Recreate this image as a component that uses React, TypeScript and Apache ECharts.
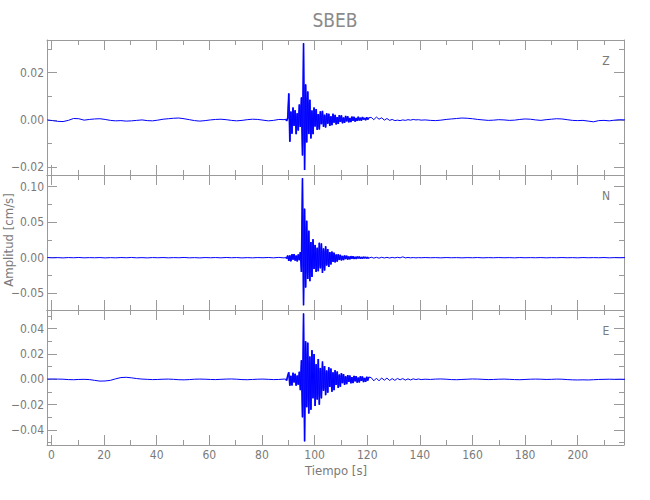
import React, { useEffect, useRef } from "react";
import * as echarts from "echarts";

// ---- data ----
const STATION = "SBEB";
const COMPONENTS = ["Z", "N", "E"];
const X_MIN = -1.7;
const X_MAX = 217.6;
const X_MAJOR = [0, 20, 40, 60, 80, 100, 120, 140, 160, 180, 200];
const X_MINOR = [10, 30, 50, 70, 90, 110, 130, 150, 170, 190, 210];

const Y_RANGES = [
  [-0.0233, 0.0338],
  [-0.0737, 0.1165],
  [-0.0519, 0.0548],
];
const Y_MAJOR = [
  [-0.02, 0, 0.02],
  [-0.05, 0, 0.05, 0.1],
  [-0.04, -0.02, 0, 0.02, 0.04],
];
const Y_MINOR = [
  [-0.01, 0.01, 0.03],
  [-0.025, 0.025, 0.075],
  [-0.05, -0.03, -0.01, 0.01, 0.03, 0.05],
];

// sampling of each trace segment (start time, step in s)
const PRE_T0 = -1.6, PRE_DT = 2;
const DENSE_T0 = 89.0, DENSE_DT = 0.4;
const TAIL_T0 = 121.5, TAIL_DT = 1;
const POST_T0 = 142, POST_DT = 2;

// Z component (cm/s)
const zPre = [
  0.0, -0.0003, -0.0006, -0.0007, -0.0002, 0.0006, 0.0005, -0.0001, 0.0002, 0.0004,
  0.0005, 0.0002, -0.0002, -0.0004, -0.0003, -0.0005, -0.0004, -0.0002, 0.0, -0.0003,
  -0.0004, -0.0001, 0.0003, 0.0005, 0.0007, 0.0008, 0.0005, 0.0001, -0.0003, -0.0005,
  -0.0003, 0.0, 0.0002, 0.0003, 0.0001, -0.0002, -0.0004, -0.0002, 0.0001, 0.0003,
  0.0002, -0.0001, -0.0004, -0.0002, 0.0002, 0.0001,
];
const zDense = [
  0.0003, -0.0004, 0.0008, 0.0112, -0.0092, 0.0035, -0.0058, 0.0052, -0.0025, 0.0041,
  -0.006, 0.0028, -0.0045, 0.0065, -0.003, 0.0095, -0.015, 0.0324, -0.0212, 0.015,
  -0.0095, 0.012, -0.006, 0.0085, -0.0078, 0.004, -0.006, 0.0052, -0.0028, 0.0046,
  -0.0042, 0.0025, -0.004, 0.0036, -0.0018, 0.0038, -0.003, 0.0022, -0.0032, 0.0028,
  -0.0016, 0.0026, -0.0025, 0.0015, -0.0022, 0.0026, -0.0012, 0.0021, -0.0019, 0.0012,
  -0.0017, 0.002, -0.0008, 0.0019, -0.0014, 0.001, -0.0012, 0.0017, -0.0006, 0.0015,
  -0.001, 0.0008, -0.0009, 0.0014, -0.0004, 0.0013, -0.0007, 0.0008, -0.0004, 0.0013,
  -0.0002, 0.0009, -0.0003, 0.0012, 0.0002, 0.0008, -0.0001, 0.0011, 0.0002, 0.0009,
];
const zTail = [
  0.0011, 0.0001, 0.0012, 0.0003, 0.0009, -0.0001, 0.0006, -0.0002, 0.0002, -0.0003,
  -0.0001, -0.0003, 0.0, -0.0002, 0.0001, -0.0001, 0.0002, 0.0, 0.0001, -0.0001,
];
const zPost = [
  0.0, -0.0002, -0.0003, -0.0001, 0.0002, 0.0004, 0.0006, 0.0008, 0.0007, 0.0005,
  0.0002, 0.0, -0.0002, -0.0001, 0.0001, 0.0, -0.0002, -0.0001, 0.0002, 0.0004,
  0.0003, 0.0, -0.0002, 0.0001, 0.0003, 0.0005, 0.0004, 0.0001, -0.0002, -0.0003,
  -0.0002, -0.0005, -0.0008, -0.0003, -0.0002, -0.0004, -0.0001, 0.0001, 0.0,
];

// N component (cm/s)
const nPre = [
  0.0002, -0.0002, 0.0001, -0.0003, 0.0002, -0.0001, 0.0003, -0.0002, 0.0001, -0.0001,
  0.0002, -0.0003, 0.0001, -0.0002, 0.0002, -0.0001, 0.0003, -0.0002, 0.0001, -0.0003,
  0.0002, -0.0001, 0.0002, -0.0002, 0.0001, -0.0001, 0.0003, -0.0002, 0.0001, -0.0003,
  0.0002, -0.0001, 0.0002, -0.0002, 0.0003, -0.0001, 0.0002, -0.0003, 0.0001, -0.0002,
  0.0002, -0.0001, 0.0003, -0.0002, 0.0004, -0.0003,
];
const nDense = [
  0.0005, -0.001, 0.003, -0.0045, 0.0032, -0.005, 0.0048, -0.0028, 0.005, -0.004,
  0.003, -0.0052, 0.0045, -0.0035, 0.008, -0.02, 0.112, -0.067, 0.069, -0.042,
  0.052, -0.03, 0.038, -0.033, 0.022, -0.027, 0.026, -0.016, 0.018, -0.02,
  0.014, -0.019, 0.021, -0.015, 0.02, -0.0215, 0.013, -0.018, 0.016, -0.011,
  0.012, -0.013, 0.008, -0.0095, 0.0085, -0.006, 0.007, -0.0065, 0.0045, -0.0055,
  0.0048, -0.0032, 0.004, -0.0038, 0.0025, -0.0034, 0.003, -0.002, 0.0027, -0.0025,
  0.0016, -0.0023, 0.0021, -0.0013, 0.0019, -0.0017, 0.0011, -0.0016, 0.0015, -0.0009,
  0.0014, -0.0013, 0.0008, -0.0012, 0.0011, -0.0007, 0.001, -0.0009, 0.0006, -0.0008,
];
const nTail = [
  0.0007, -0.0006, 0.0005, -0.0007, 0.0006, -0.0004, 0.0005, -0.0005, 0.0004, -0.0003,
  0.0005, -0.0002, 0.0012, -0.0003, 0.0003, -0.0002, 0.0002, -0.0002, 0.0001, -0.0001,
];
const nPost = [
  0.0002, -0.0001, 0.0001, -0.0002, 0.0002, -0.0001, 0.0001, -0.0002, 0.0001, -0.0001,
  0.0002, -0.0002, 0.0001, -0.0001, 0.0002, -0.0001, 0.0001, -0.0002, 0.0002, -0.0001,
  0.0001, -0.0001, 0.0002, -0.0002, 0.0001, -0.0001, 0.0002, -0.0001, 0.0001, -0.0002,
  0.0002, -0.0001, 0.0001, -0.0001, 0.0002, -0.0002, 0.0001, -0.0001, 0.0001,
];

// E component (cm/s)
const ePre = [
  0.0002, 0.0003, 0.0002, 0.0001, -0.0002, -0.0003, -0.0001, 0.0, -0.0002, -0.0008,
  -0.0014, -0.0013, -0.0008, 0.0004, 0.0014, 0.0016, 0.0012, 0.0006, 0.0002, 0.0,
  -0.0002, -0.0001, 0.0001, 0.0002, 0.0, -0.0003, -0.0004, -0.0002, 0.0001, 0.0002,
  0.0001, -0.0001, -0.0002, 0.0, 0.0002, 0.0003, 0.0001, -0.0002, -0.0003, -0.0001,
  0.0001, 0.0002, 0.0, -0.0002, -0.0001, 0.0002,
];
const eDense = [
  0.0002, -0.0008, 0.003, 0.0055, -0.005, 0.0028, -0.0048, 0.0052, -0.0025, 0.0044,
  -0.005, 0.003, -0.0042, 0.006, -0.0085, 0.015, -0.03, 0.052, -0.049, 0.03,
  -0.022, 0.029, -0.027, 0.018, -0.024, 0.023, -0.015, 0.02, -0.021, 0.012,
  -0.016, 0.016, -0.02, 0.009, -0.015, 0.014, -0.009, 0.0105, -0.0125, 0.007,
  -0.0105, 0.0095, -0.006, 0.0085, -0.0098, 0.0055, -0.0085, 0.0072, -0.0045, 0.0062,
  -0.0068, 0.0038, -0.0058, 0.005, -0.003, 0.0042, -0.0044, 0.0024, -0.0038, 0.0034,
  -0.002, 0.003, -0.0031, 0.0018, -0.0029, 0.0027, -0.0015, 0.0026, -0.0026, 0.0014,
  -0.0024, 0.0024, -0.0012, 0.0022, -0.0022, 0.0011, -0.002, 0.002, -0.001, 0.0018,
];
const eTail = [
  0.0014, -0.0012, 0.0009, -0.0012, 0.0011, -0.0007, 0.001, -0.0009, 0.0006, -0.0008,
  0.0007, -0.0004, 0.0006, -0.0006, 0.0004, -0.0005, 0.0004, -0.0002, 0.0003, -0.0002,
];
const ePost = [
  0.0001, -0.0001, 0.0002, 0.0003, 0.0001, -0.0002, -0.0003, -0.0001, 0.0001, 0.0003,
  0.0002, 0.0, -0.0002, -0.0001, 0.0001, 0.0002, 0.0, -0.0002, -0.0003, -0.0001,
  0.0001, 0.0002, 0.0001, -0.0001, 0.0, 0.0002, 0.0001, -0.0002, -0.0004, -0.0005,
  -0.0004, -0.0005, -0.0003, -0.0001, 0.0, 0.0001, 0.0, 0.0001, 0.0,
];

const TRACES = [
  [zPre, zDense, zTail, zPost],
  [nPre, nDense, nTail, nPost],
  [ePre, eDense, eTail, ePost],
];

// ---- layout / style ----
const GRID_LEFT = 47;
const GRID_RIGHT = 26;
const GRID_TOPS = [40, 175, 310];
const GRID_H = 135;
const AXIS_COLOR = "#9a9a9a";
const TEXT_COLOR = "#7a7a7a";
const FONT = '"DejaVu Sans Condensed", sans-serif';
const TRACE_COLOR = "#0000ff";

function segment(t0: number, dt: number, vals: number[]) {
  return vals.map((v, i) => [t0 + i * dt, v]);
}

function traceData(parts: number[][]) {
  return [
    ...segment(PRE_T0, PRE_DT, parts[0]),
    ...segment(DENSE_T0, DENSE_DT, parts[1]),
    ...segment(TAIL_T0, TAIL_DT, parts[2]),
    ...segment(POST_T0, POST_DT, parts[3]),
  ];
}

function fmt(v: number) {
  const s = Math.abs(v).toFixed(2);
  return v < -1e-9 ? "\u2212" + s : s;
}

function buildOption() {
  const grids: any[] = [];
  const xAxes: any[] = [];
  const yAxes: any[] = [];
  const series: any[] = [];
  const lineStyle = { color: AXIS_COLOR, width: 1 };

  GRID_TOPS.forEach((top, g) => {
    grids.push({ left: GRID_LEFT, right: GRID_RIGHT, top, height: GRID_H, containLabel: false });
    const [ymin, ymax] = Y_RANGES[g];

    const xBase = (position: string, major: boolean, label: boolean) => ({
      type: "value",
      gridIndex: g,
      position,
      min: X_MIN,
      max: X_MAX,
      axisLine: { show: major, onZero: false, lineStyle },
      axisTick: {
        show: true,
        inside: true,
        length: major ? 10 : 5,
        customValues: major ? X_MAJOR : X_MINOR,
        lineStyle,
      },
      axisLabel: label
        ? {
            show: true,
            customValues: X_MAJOR,
            margin: 4,
            color: TEXT_COLOR,
            fontSize: 12,
            fontFamily: FONT,
            formatter: (v: number) => String(Math.round(v)),
          }
        : { show: false },
      splitLine: { show: false },
    });
    xAxes.push(xBase("bottom", true, g === 2));
    xAxes.push(xBase("bottom", false, false));
    xAxes.push(xBase("top", true, false));
    xAxes.push(xBase("top", false, false));

    const yBase = (position: string, major: boolean, label: boolean) => ({
      type: "value",
      gridIndex: g,
      position,
      min: ymin,
      max: ymax,
      axisLine: { show: major, onZero: false, lineStyle },
      axisTick: {
        show: true,
        inside: true,
        length: major ? 10 : 5,
        customValues: major ? Y_MAJOR[g] : Y_MINOR[g],
        lineStyle,
      },
      axisLabel: label
        ? {
            show: true,
            customValues: Y_MAJOR[g],
            margin: 3,
            color: TEXT_COLOR,
            fontSize: 12,
            fontFamily: FONT,
            formatter: (v: number) => fmt(v),
          }
        : { show: false },
      splitLine: { show: false },
    });
    yAxes.push(yBase("left", true, true));
    yAxes.push(yBase("left", false, false));
    yAxes.push(yBase("right", true, false));
    yAxes.push(yBase("right", false, false));

    const parts = TRACES[g];
    // full trace, thin
    series.push({
      type: "line",
      name: COMPONENTS[g],
      xAxisIndex: g * 4,
      yAxisIndex: g * 4,
      data: traceData(parts),
      showSymbol: false,
      symbol: "none",
      clip: true,
      silent: true,
      lineStyle: { color: TRACE_COLOR, width: 1 },
    });
    // strong-motion part redrawn wider so the dense oscillation reads as a filled band
    series.push({
      type: "line",
      name: COMPONENTS[g] + " dense",
      xAxisIndex: g * 4,
      yAxisIndex: g * 4,
      data: segment(DENSE_T0, DENSE_DT, parts[1]),
      showSymbol: false,
      symbol: "none",
      clip: true,
      silent: true,
      lineStyle: { color: TRACE_COLOR, width: 1.7, opacity: 0.85 },
    });
  });

  const graphic: any[] = [
    {
      type: "text",
      x: 335,
      y: 20,
      style: { text: STATION, fill: "#8a8a8a", font: `19px ${FONT}`, align: "center", verticalAlign: "middle" },
    },
    {
      type: "text",
      x: 336,
      y: 470,
      style: { text: "Tiempo [s]", fill: TEXT_COLOR, font: `13px ${FONT}`, align: "center", verticalAlign: "middle" },
    },
    {
      type: "text",
      x: 8,
      y: 240,
      rotation: Math.PI / 2,
      style: { text: "Amplitud [cm/s]", fill: TEXT_COLOR, font: `13px ${FONT}`, align: "center", verticalAlign: "middle" },
    },
  ];
  COMPONENTS.forEach((c, g) => {
    graphic.push({
      type: "text",
      x: 606,
      y: GRID_TOPS[g] + 21,
      style: { text: c, fill: TEXT_COLOR, font: `12px ${FONT}`, align: "center", verticalAlign: "middle" },
    });
  });

  return {
    animation: false,
    backgroundColor: "#ffffff",
    grid: grids,
    xAxis: xAxes,
    yAxis: yAxes,
    series,
    graphic,
  };
}

export default function App() {
  const ref = useRef<HTMLDivElement>(null);
  useEffect(() => {
    if (!ref.current) return;
    const chart = echarts.init(ref.current, undefined, { renderer: "svg" });
    chart.setOption(buildOption() as any);
    return () => chart.dispose();
  }, []);
  return (
    <div
      ref={ref}
      style={{ position: "fixed", left: 0, top: 0, width: 650, height: 500, background: "#fff" }}
    />
  );
}
